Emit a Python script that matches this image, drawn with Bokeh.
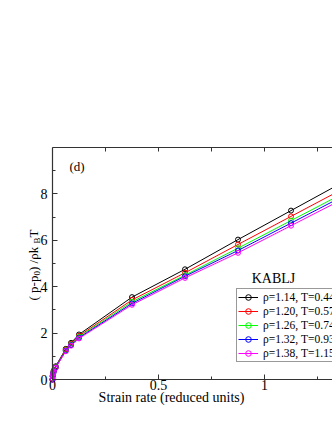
from bokeh.plotting import figure
from bokeh.models import (Range1d, LinearAxis, FixedTicker, SingleIntervalTicker, Label,
                          Legend, LegendItem, CustomJSTickFormatter, NumeralTickFormatter)
from bokeh.embed import file_html
from bokeh.resources import INLINE

# ---- data ----
strain_rate = [0, 0.001, 0.003, 0.006, 0.015, 0.0625, 0.0875, 0.125,
               0.375, 0.625, 0.875, 1.125, 1.375]
p_rho114 = [0, 0.16, 0.28, 0.39, 0.57, 1.32, 1.58, 1.94, 3.55, 4.75, 6.03, 7.28, 8.53]
p_rho120 = [0, 0.15, 0.27, 0.37, 0.55, 1.29, 1.54, 1.88, 3.43, 4.60, 5.82, 7.03, 8.24]
p_rho126 = [0, 0.15, 0.26, 0.36, 0.53, 1.26, 1.51, 1.84, 3.35, 4.50, 5.66, 6.85, 8.04]
p_rho132 = [0, 0.14, 0.25, 0.35, 0.52, 1.24, 1.48, 1.80, 3.28, 4.45, 5.56, 6.74, 7.92]
p_rho138 = [0, 0.14, 0.25, 0.34, 0.50, 1.22, 1.46, 1.77, 3.22, 4.38, 5.46, 6.63, 7.80]
series = [p_rho114, p_rho120, p_rho126, p_rho132, p_rho138]
series_labels = ["ρ=1.14, T=0.44", "ρ=1.20, T=0.57", "ρ=1.26, T=0.74",
                 "ρ=1.32, T=0.93", "ρ=1.38, T=1.15"]
colors = ["#000000", "#ff0000", "#00ff00", "#0000ff", "#ff00ff"]
x_ticks = [0, 0.5, 1]
x_minor = [0.25, 0.75, 1.25]
y_ticks = [0, 2, 4, 6, 8]
y_minor = [1, 3, 5, 7, 9]

FONT = "Liberation Serif"
W, H = 332, 430
X0, Y0 = 52, 379          # page pixel of data origin
PX_X, PX_Y = 212.0, 23.2  # pixels per data unit
X_MAX, Y_MAX = (W - X0) / PX_X, 10

# frame covers the canvas below the top border; both axes pinned at data 0
p = figure(width=W, height=H, output_backend="svg", toolbar_location=None,
           x_range=Range1d(-X0 / PX_X, X_MAX),
           y_range=Range1d(-(H - Y0) / PX_Y, Y_MAX),
           min_border_left=0, min_border_right=0, min_border_top=147,
           min_border_bottom=0)
p.grid.visible = False
p.outline_line_color = None
p.background_fill_color = "white"
p.border_fill_color = "white"

p.xaxis.ticker = FixedTicker(ticks=x_ticks, minor_ticks=x_minor)
p.xaxis.formatter = NumeralTickFormatter(format="0.[0]")
p.xaxis.fixed_location = 0
p.xaxis.bounds = (0, X_MAX)
p.yaxis.ticker = FixedTicker(ticks=y_ticks, minor_ticks=y_minor)
p.yaxis.fixed_location = 0
p.yaxis.bounds = (0, Y_MAX)
for ax in (p.xaxis[0], p.yaxis[0]):
    ax.axis_line_color = "#333333"
    ax.axis_line_width = 1.2
    ax.major_tick_line_color = "#333333"
    ax.minor_tick_line_color = "#333333"
    ax.major_tick_in = 5
    ax.major_tick_out = 0
    ax.minor_tick_in = 3
    ax.minor_tick_out = 0
    ax.major_label_text_font = FONT
    ax.major_label_text_font_size = "14px"
    ax.major_label_text_color = "black"
p.yaxis.major_label_standoff = 5
p.xaxis.major_label_standoff = 0

top_axis = LinearAxis(ticker=SingleIntervalTicker(interval=0.25, num_minor_ticks=0),
                      formatter=CustomJSTickFormatter(code="return ''"),
                      bounds=(0, X_MAX),
                      axis_line_color="#333333", axis_line_width=1.2,
                      major_tick_line_color="#333333",
                      major_tick_in=4, major_tick_out=0,
                      minor_tick_in=0, minor_tick_out=0)
p.add_layout(top_axis, "above")

items = []
for ys, c, lab in zip(series, colors, series_labels):
    lr = p.line(strain_rate, ys, line_color=c, line_width=1)
    sr = p.scatter(strain_rate, ys, marker="circle", size=5, line_color=c,
                   fill_color=None, line_width=1)
    items.append(LegendItem(label=lab, renderers=[lr, sr]))

legend = Legend(items=items, location=(236, H - 362), padding=1, spacing=0, margin=0,
                label_height=14, glyph_height=14, glyph_width=20, label_standoff=5,
                label_text_font=FONT, label_text_font_size="11.5px",
                label_text_color="black", label_text_line_height=1.0,
                border_line_color="#333333", border_line_width=1,
                background_fill_color="white", background_fill_alpha=1)
p.add_layout(legend)

def scr_label(px, py, text, size, **kw):
    # page pixel -> screen units relative to the frame's bottom-left corner
    return Label(x=px, y=H - py, x_units="screen", y_units="screen", text=text,
                 text_color="black", text_font=FONT, text_font_size=size, **kw)

p.add_layout(scr_label(69, 166, "(d)", "13px", text_baseline="middle"))
p.add_layout(scr_label(273, 278, "KABLJ", "14px", text_baseline="middle",
                       text_align="center"))
p.add_layout(scr_label(171, 397, "Strain rate (reduced units)", "14px",
                       text_baseline="middle", text_align="center"))

ylab_parts = [("( p-p", 33, 300, "13px"), ("0", 36, 275, "9px"),
              (" ) /ρk", 33, 270.5, "13px"), ("B", 36, 243, "9px"),
              (" T", 33, 237, "13px")]
for txt, px, py, fs in ylab_parts:
    p.add_layout(scr_label(px, py, txt, fs, angle=1.5707963,
                           text_align="left", text_baseline="alphabetic"))

open("out.html", "w").write(file_html(p, INLINE))
